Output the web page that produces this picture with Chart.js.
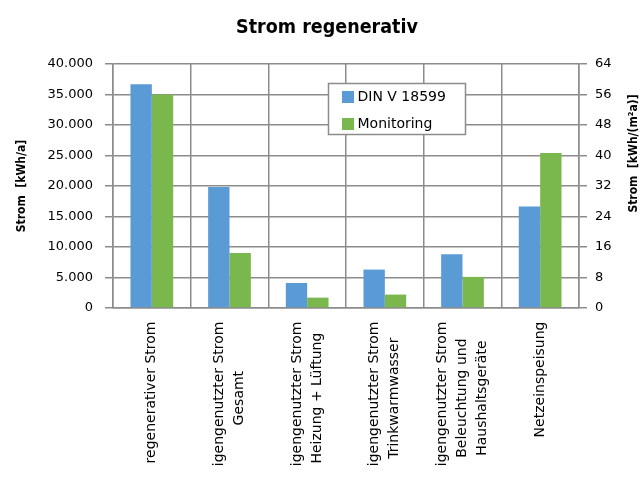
<!DOCTYPE html>
<html lang="de">
<head>
<meta charset="utf-8">
<title>Strom regenerativ</title>
<script src="https://cdn.jsdelivr.net/npm/chart.js@4.4.1/dist/chart.umd.min.js"></script>
<style>
    html, body { margin: 0; padding: 0; background: #fff; }
    #wrap { width: 644px; height: 466px; overflow: hidden; }
</style>
</head>
<body>
<div id="wrap"><canvas id="chart" width="644" height="466"></canvas></div>
<script>
// Kategorien (mehrzeilig)
const categories = [
    ['regenerativer Strom'],
    ['eigengenutzter Strom', 'Gesamt'],
    ['eigengenutzter Strom', 'Heizung + Lüftung'],
    ['eigengenutzter Strom', 'Trinkwarmwasser'],
    ['eigengenutzter Strom', 'Beleuchtung und', 'Haushaltsgeräte'],
    ['Netzeinspeisung']
];

// Werte in kWh/a
const dinValues = [36700, 19850, 4100, 6300, 8800, 16650];
const monitoringValues = [35000, 9000, 1700, 2200, 5100, 25400];

const seriesNames = ['DIN V 18599', 'Monitoring'];
const leftAxisTitle = 'Strom  [kWh/a]';
const rightAxisTitle = 'Strom  [kWh/(m²a)]';
const chartTitle = 'Strom regenerativ';

const gridColor = '#8c8c8c';
const font = 'DejaVu Sans';

// Tausenderpunkt wie im Original
function formatDe(v) {
    return String(v).replace(/\B(?=(\d{3})+(?!\d))/g, '.');
}

// Kategorienbeschriftung: gedreht, Zeilen zentriert
const categoryLabels = {
    id: 'categoryLabels',
    afterDraw(chart) {
        const ctx = chart.ctx;
        const xScale = chart.scales.x;
        const topY = chart.chartArea.bottom + 13.5;
        const lineHeight = 20;
        ctx.save();
        ctx.font = '14px "' + font + '"';
        ctx.fillStyle = '#000';
        ctx.textAlign = 'center';
        ctx.textBaseline = 'middle';
        categories.forEach((lines, i) => {
            const cx = xScale.getPixelForTick(i);
            const w = Math.max(...lines.map(l => ctx.measureText(l).width));
            ctx.save();
            ctx.translate(cx, topY + w / 2);
            ctx.rotate(-Math.PI / 2);
            lines.forEach((line, j) => {
                ctx.fillText(line, 0, (j - (lines.length - 1) / 2) * lineHeight);
            });
            ctx.restore();
        });
        ctx.restore();
    }
};

// rechte Achsenbeschriftung (liest von unten nach oben)
const rightTitle = {
    id: 'rightTitle',
    afterDraw(chart) {
        const ctx = chart.ctx;
        ctx.save();
        ctx.font = 'bold 12px "DejaVu Sans Condensed"';
        ctx.fillStyle = '#000';
        ctx.textAlign = 'center';
        ctx.textBaseline = 'middle';
        ctx.translate(633.5, 153.5);
        ctx.rotate(-Math.PI / 2);
        ctx.fillText(rightAxisTitle, 0, 0);
        ctx.restore();
    }
};

// Legende im Diagrammbereich
const boxLegend = {
    id: 'boxLegend',
    afterDatasetsDraw(chart) {
        const ctx = chart.ctx;
        const area = chart.chartArea;
        const x = area.left + 215.5;
        const y = area.top + 19.5;
        ctx.save();
        ctx.fillStyle = '#fff';
        ctx.fillRect(x, y, 137, 51);
        ctx.strokeStyle = gridColor;
        ctx.lineWidth = 1.5;
        ctx.strokeRect(x, y, 137, 51);
        ctx.font = '14px "' + font + '"';
        ctx.textBaseline = 'middle';
        ctx.textAlign = 'left';
        chart.data.datasets.forEach((ds, i) => {
            const rowY = y + 7.5 + i * 27;
            ctx.fillStyle = ds.backgroundColor;
            ctx.fillRect(x + 13.5, rowY, 12, 12);
            ctx.fillStyle = '#000';
            ctx.fillText(ds.label, x + 29, rowY + 6.5);
        });
        ctx.restore();
    }
};

new Chart(document.getElementById('chart'), {
    type: 'bar',
    data: {
        labels: categories.map(c => c.join(' ')),
        datasets: [{
            label: seriesNames[0],
            data: dinValues,
            backgroundColor: '#5b9bd5',
            yAxisID: 'y'
        }, {
            label: seriesNames[1],
            data: monitoringValues,
            backgroundColor: '#7ab74c',
            yAxisID: 'y'
        }]
    },
    options: {
        responsive: false,
        animation: false,
        layout: { padding: { left: 10 } },
        datasets: {
            bar: { categoryPercentage: 0.55, barPercentage: 1 }
        },
        plugins: {
            legend: { display: false },
            tooltip: { enabled: false },
            title: {
                display: true,
                text: chartTitle,
                color: '#000',
                font: { family: 'DejaVu Sans Condensed', size: 19.5, weight: 'bold' },
                padding: { top: 16, bottom: 24.6 }
            }
        },
        scales: {
            x: {
                grid: { color: gridColor, lineWidth: 1.5, drawTicks: false, offset: true },
                border: { color: gridColor, width: 1.5 },
                ticks: { display: false },
                afterFit: s => { s.height = 158; }
            },
            y: {
                position: 'left',
                min: 0,
                max: 40000,
                ticks: {
                    stepSize: 5000,
                    color: '#000',
                    padding: 12,
                    font: { family: font, size: 13 },
                    callback: v => formatDe(v)
                },
                grid: { color: gridColor, lineWidth: 1.5, tickLength: 8 },
                border: { color: gridColor, width: 1.5 },
                title: {
                    display: true,
                    text: leftAxisTitle,
                    color: '#000',
                    font: { family: 'DejaVu Sans Condensed', size: 12, weight: 'bold' },
                    padding: { top: 4.5, bottom: 0 }
                },
                afterFit: s => { s.width = 103; }
            },
            y2: {
                position: 'right',
                min: 0,
                max: 64,
                ticks: {
                    stepSize: 8,
                    color: '#000',
                    padding: 8,
                    font: { family: font, size: 13 }
                },
                grid: { color: gridColor, lineWidth: 1.5, tickLength: 8, drawOnChartArea: false },
                border: { color: gridColor, width: 1.5 },
                afterFit: s => { s.width = 65; }
            }
        }
    },
    plugins: [categoryLabels, rightTitle, boxLegend]
});
</script>
</body>
</html>
